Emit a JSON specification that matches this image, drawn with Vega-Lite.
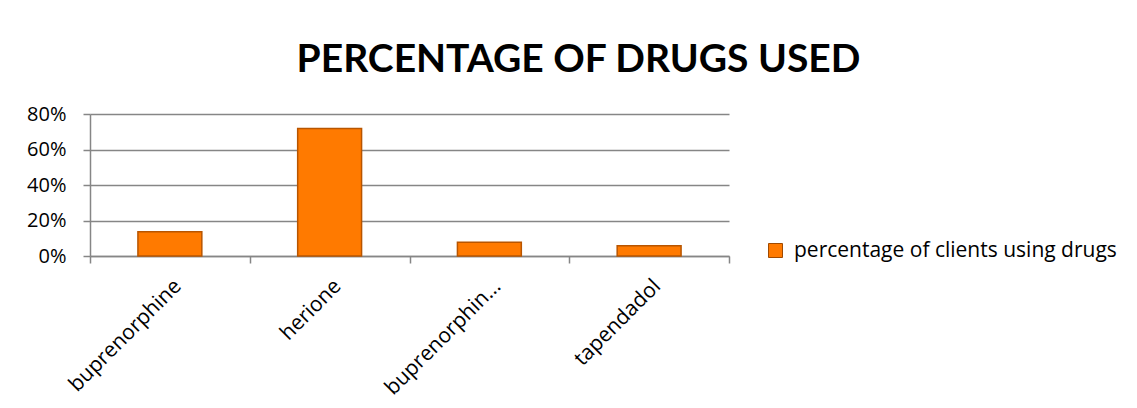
{
  "$schema": "https://vega.github.io/schema/vega-lite/v6.json",
  "autosize": {"type": "none"},
  "width": 639,
  "height": 142,
  "padding": {"left": 90, "top": 114, "right": 408, "bottom": 152},
  "background": "white",
  "title": {
    "text": "PERCENTAGE OF DRUGS USED",
    "font": "Lato",
    "fontSize": 39,
    "fontWeight": "bold",
    "color": "#000000",
    "anchor": "middle",
    "frame": "group",
    "dx": 169,
    "offset": 24
  },
  "data": {
    "values": [
      {"drug": "buprenorphine", "pct": 0.137, "series": "percentage of clients using drugs"},
      {"drug": "herione", "pct": 0.719, "series": "percentage of clients using drugs"},
      {"drug": "buprenorphin...", "pct": 0.077, "series": "percentage of clients using drugs"},
      {"drug": "tapendadol", "pct": 0.058, "series": "percentage of clients using drugs"}
    ]
  },
  "mark": {"type": "bar", "stroke": "#B85500", "strokeWidth": 1.5, "width": {"band": 0.4}},
  "encoding": {
    "x": {
      "field": "drug",
      "type": "nominal",
      "sort": null,
      "scale": {"paddingInner": 0, "paddingOuter": 0},
      "axis": {
        "title": null,
        "labelAngle": -45,
        "labelAlign": "right",
        "labelBaseline": "top",
        "labelPadding": 12,
        "labelFont": "Open Sans",
        "labelFontSize": 21,
        "labelColor": "#000000",
        "labelLimit": 300,
        "tickBand": "extent",
        "tickSize": 7,
        "tickColor": "#868686",
        "tickWidth": 1.5,
        "domainColor": "#868686",
        "domainWidth": 1.5,
        "grid": false
      }
    },
    "y": {
      "field": "pct",
      "type": "quantitative",
      "scale": {"domain": [0, 0.8], "nice": false},
      "axis": {
        "title": null,
        "format": ".0%",
        "values": [0, 0.2, 0.4, 0.6, 0.8],
        "labelFont": "Open Sans",
        "labelFontSize": 20,
        "labelColor": "#000000",
        "labelPadding": 17,
        "tickSize": 7,
        "tickColor": "#868686",
        "tickWidth": 1.5,
        "domainColor": "#868686",
        "domainWidth": 1.5,
        "grid": true,
        "gridColor": "#868686",
        "gridWidth": 1.5
      }
    },
    "color": {
      "field": "series",
      "type": "nominal",
      "scale": {"range": ["#FF7A00"]},
      "legend": {
        "title": null,
        "orient": "none",
        "legendX": 675,
        "legendY": 126,
        "padding": 0,
        "symbolType": "square",
        "symbolSize": 196,
        "symbolStrokeColor": "#A04A00",
        "symbolStrokeWidth": 1,
        "labelFont": "Open Sans",
        "labelFontSize": 21,
        "labelColor": "#000000",
        "labelOffset": 8,
        "labelLimit": 400
      }
    }
  },
  "config": {
    "view": {"stroke": null}
  }
}
